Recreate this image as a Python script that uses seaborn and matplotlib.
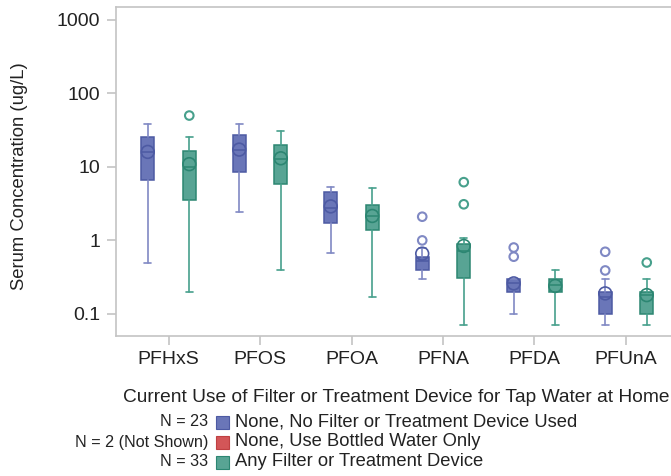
"""Serum PFAS concentrations by home tap-water filter use (box plots, log scale)"""
import matplotlib
matplotlib.use("Agg")
import matplotlib.pyplot as plt
from matplotlib.patches import Rectangle
import numpy as np
import pandas as pd
import seaborn as sns

analytes = ["PFHxS", "PFOS", "PFOA", "PFNA", "PFDA", "PFUnA"]
groups = ["None, No Filter or Treatment Device Used",
          "None, Use Bottled Water Only",
          "Any Filter or Treatment Device"]
group_n = ["N = 23", "N = 2 (Not Shown)", "N = 33"]
legend_title = "Current Use of Filter or Treatment Device for Tap Water at Home"

# group 1: no filter
none_whislo = [0.5, 2.4, 0.67, 0.30, 0.10, 0.07]
none_q1 = [6.7, 8.6, 1.75, 0.40, 0.20, 0.10]
none_med = [16.0, 17.0, 2.75, 0.53, 0.26, 0.17]
none_q3 = [25.5, 27.0, 4.5, 0.59, 0.30, 0.20]
none_whishi = [38.0, 38.0, 5.3, 0.80, 0.30, 0.30]
none_mean = [16.0, 17.2, 2.9, 0.66, 0.26, 0.19]
none_outliers = [[], [], [], [1.0, 2.1], [0.6, 0.8], [0.39, 0.70]]

# group 3: any filter
filt_whislo = [0.2, 0.4, 0.17, 0.07, 0.07, 0.07]
filt_q1 = [3.55, 5.8, 1.4, 0.31, 0.20, 0.10]
filt_med = [10.1, 13.0, 2.15, 0.71, 0.25, 0.18]
filt_q3 = [16.4, 20.0, 3.0, 0.88, 0.30, 0.20]
filt_whishi = [25.4, 30.7, 5.1, 1.08, 0.40, 0.30]
filt_mean = [10.9, 13.1, 2.15, 0.84, 0.24, 0.18]
filt_outliers = [[50.0], [], [], [3.1, 6.2], [], [0.5]]

fill_colors = ["#6a76b8", "#d35658", "#58a494"]
edge_colors = ["#4d5aa3", "#bf4042", "#2c8672"]
whisk_colors = ["#8089c4", "#d06060", "#47a08c"]
offsets = [-0.227, 0.0, 0.227]

sns.set_theme(style="white")
plt.rcParams['font.family'] = ['Liberation Sans', 'DejaVu Sans']

fig = plt.figure(figsize=(6.71, 4.76), dpi=100)
W, H = 671, 476
ax = fig.add_axes([116 / W, 1 - 336 / H, (678.5 - 116) / W, (336 - 7) / H])

shown = [
    (0, none_whislo, none_q1, none_med, none_q3, none_whishi, none_mean, none_outliers),
    (2, filt_whislo, filt_q1, filt_med, filt_q3, filt_whishi, filt_mean, filt_outliers),
]

rows = []
for gi, lo, q1, med, q3, hi, mean, outl in shown:
    stats = []
    for i in range(len(analytes)):
        stats.append({"whislo": lo[i], "q1": q1[i], "med": med[i], "q3": q3[i],
                      "whishi": hi[i], "fliers": []})
        rows.append({"x": i + offsets[gi], "y": mean[i], "kind": "mean", "group": gi})
        for v in outl[i]:
            rows.append({"x": i + offsets[gi], "y": v, "kind": "outlier", "group": gi})
    pos = np.arange(len(analytes)) + offsets[gi]
    ax.bxp(stats, positions=pos, widths=0.145, patch_artist=True, showfliers=False,
           boxprops=dict(facecolor=fill_colors[gi], edgecolor=edge_colors[gi], linewidth=1.1),
           medianprops=dict(color=edge_colors[gi], linewidth=1.1),
           whiskerprops=dict(color=whisk_colors[gi], linewidth=1.2),
           capprops=dict(color=whisk_colors[gi], linewidth=1.2),
           capwidths=0.075, manage_ticks=False, zorder=2)

pts = pd.DataFrame(rows)
for gi in (0, 2):
    sub = pts[(pts["group"] == gi) & (pts["kind"] == "mean")]
    sns.scatterplot(data=sub, x="x", y="y", ax=ax, marker="o", s=85,
                    facecolor="none", edgecolor=edge_colors[gi], linewidth=1.2,
                    legend=False, zorder=3)
    sub = pts[(pts["group"] == gi) & (pts["kind"] == "outlier")]
    sns.scatterplot(data=sub, x="x", y="y", ax=ax, marker="o", s=38,
                    facecolor="none", edgecolor=whisk_colors[gi], linewidth=1.5,
                    legend=False, zorder=3)

ax.set_yscale("log")
ax.set_ylim(0.05, 1500)
ax.set_xlim(-0.574, len(analytes) - 1 + 0.574)
ax.set_yticks([0.1, 1, 10, 100, 1000])
ax.set_yticklabels(["0.1", "1", "10", "100", "1000"])
ax.yaxis.set_minor_locator(matplotlib.ticker.NullLocator())
ax.set_xticks(np.arange(len(analytes)))
ax.set_xticklabels(analytes)
ax.set_xlabel("")
ax.set_ylabel("")
ax.tick_params(axis="both", direction="out", length=6.5, width=1.2, color="#c4c4c4",
               labelsize=14, labelcolor="#222222", bottom=True, left=True)
ax.tick_params(axis="x", pad=4.5)
ax.tick_params(axis="y", pad=4.8)
for sp in ax.spines.values():
    sp.set_color("#c4c4c4")
    sp.set_linewidth(1.2)

fig.text(20 / W, 1 - 176 / H, "Serum Concentration (ug/L)", rotation=90,
         ha="center", va="center", fontsize=13.3, color="#222222")

# legend drawn by hand, as in the original
fig.text(123 / W, 1 - 398 / H, legend_title, ha="left", va="center",
         fontsize=13.8, color="#222222")
row_y = [422, 442, 462]
for gi, name in enumerate(groups):
    yc = 1 - row_y[gi] / H
    fig.text(208 / W, yc, group_n[gi], ha="right", va="center", fontsize=11.6, color="#222222")
    fig.patches.append(Rectangle((216 / W, yc - 6.5 / H), 13 / W, 13 / H,
                                 transform=fig.transFigure, facecolor=fill_colors[gi],
                                 edgecolor=edge_colors[gi], linewidth=0.8))
    fig.text(235 / W, yc, name, ha="left", va="center", fontsize=13.2, color="#222222")

fig.savefig("out.png", dpi=100)
